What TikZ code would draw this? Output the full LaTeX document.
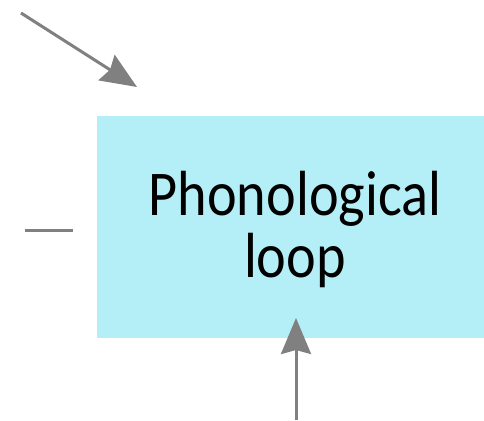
\documentclass[tikz,border=0pt]{standalone}
\usepackage{fontspec}
\setmainfont{Carlito}
\usetikzlibrary{arrows.meta}
\definecolor{loopcyan}{RGB}{180,239,248}
\definecolor{arrowgray}{RGB}{128,128,128}

\begin{document}
\begin{tikzpicture}[x=1pt,y=-1pt,
  feed/.style={arrowgray,line width=3pt,-{Stealth[length=36pt,width=30pt,inset=4pt]}}]
\useasboundingbox (0,0) rectangle (484,420);
% Box
\node[fill=loopcyan,minimum width=396pt,minimum height=222pt,inner sep=0pt] (loop) at (295,227) {};
\node (label) at (295,233)
  {\scalebox{0.97}[1.1]{\fontsize{58}{54}\selectfont\begin{tabular}{@{}c@{}}Phonological\\loop\end{tabular}}};
% Incoming connectors
\coordinate (inA) at (21,13);
\coordinate (tipA) at (137,87);
\draw[feed] (inA) -- (tipA);
\coordinate (inB) at (25,230);
\coordinate (endB) at (73,230);
\draw[arrowgray,line width=3pt] (inB) -- (endB);
\coordinate (inC) at (296,420);
\coordinate (tipC) at (296,318);
\draw[feed] (inC) -- (tipC);
\end{tikzpicture}
\end{document}
